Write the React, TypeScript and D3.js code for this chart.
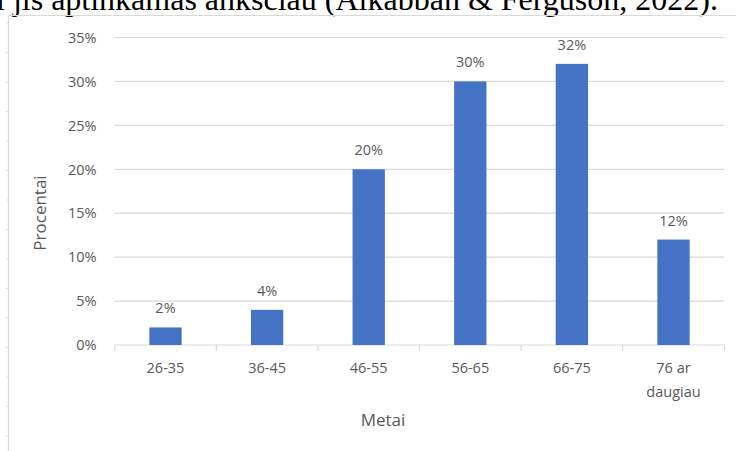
import React from "react";
import * as d3 from "d3";

// Age groups and share of cases in each
const categories: string[] = ["26-35", "36-45", "46-55", "56-65", "66-75", "76 ar daugiau"];
const shares: number[] = [0.02, 0.04, 0.2, 0.3, 0.32, 0.12];
const yTicks: number[] = [0, 0.05, 0.1, 0.15, 0.2, 0.25, 0.3, 0.35];

const xTitle = "Metai";
const yTitle = "Procentai";
const captionText = "i jis aptinkamas anksčiau (Alkabban & Ferguson, 2022).";

const W = 736;
const H = 451;
const plot = { left: 114.7, right: 724.3, top: 37.5, bottom: 345 };

const BAR = "#4472C4";
const GRID = "#D9D9D9";
const TEXT = "#595959";
const FONT = "'Open Sans', 'Noto Sans', sans-serif";

// greedy word wrap by character count
function wrap(label: string, maxChars: number): string[] {
  const words = label.split(" ");
  const lines: string[] = [];
  let cur = "";
  for (const w of words) {
    const next = cur ? cur + " " + w : w;
    if (next.length > maxChars && cur) {
      lines.push(cur);
      cur = w;
    } else cur = next;
  }
  if (cur) lines.push(cur);
  return lines;
}

export default function App() {
  const x = d3.scaleBand<string>().domain(categories).range([plot.left, plot.right]).padding(0);
  const y = d3.scaleLinear().domain([0, 0.35]).range([plot.bottom, plot.top]);
  const bw = x.bandwidth();
  const barW = bw * 0.318;
  const pct = d3.format(".0%");

  const boundaries = categories.map((c) => x(c) as number).concat([plot.right]);
  const rulerMarks = d3.range(23, H, 29.5);

  return (
    <svg
      width={W}
      height={H}
      style={{ position: "absolute", left: 0, top: 0, background: "#fff" }}
    >
      {/* running text above the figure */}
      <text
        x={-4}
        y={10}
        fontFamily="'Liberation Serif', 'Times New Roman', serif"
        fontSize={32}
        fill="#000"
      >
        {captionText}
      </text>

      {/* chart frame */}
      <line x1={8.5} x2={W} y1={15.5} y2={15.5} stroke={GRID} strokeWidth={1.2} />
      <line x1={8.5} x2={8.5} y1={15.5} y2={H} stroke={GRID} strokeWidth={1.2} />
      {rulerMarks.map((r, i) => (
        <line key={i} x1={6} x2={8} y1={r} y2={r} stroke="#E3E3E3" strokeWidth={1} />
      ))}

      {/* gridlines and value ticks */}
      {yTicks.map((t) => (
        <g key={t}>
          {t > 0 && (
            <line x1={plot.left} x2={plot.right} y1={y(t)} y2={y(t)} stroke={GRID} strokeWidth={1.2} />
          )}
          <text
            x={96.5}
            y={y(t)}
            dy="0.36em"
            textAnchor="end"
            fontFamily={FONT}
            fontSize={14.5}
            fill={TEXT}
          >
            {pct(t)}
          </text>
        </g>
      ))}

      {/* category axis */}
      <line x1={plot.left} x2={plot.right} y1={plot.bottom} y2={plot.bottom} stroke={GRID} strokeWidth={1.2} />
      {boundaries.map((b, i) => (
        <line key={i} x1={b} x2={b} y1={plot.bottom} y2={plot.bottom + 6} stroke={GRID} strokeWidth={1.2} />
      ))}
      {categories.map((c) => (
        <text
          key={c}
          x={(x(c) as number) + bw / 2}
          y={373}
          textAnchor="middle"
          fontFamily={FONT}
          fontSize={14.5}
          fill={TEXT}
        >
          {wrap(c, 7).map((ln, i) => (
            <tspan key={i} x={(x(c) as number) + bw / 2} dy={i === 0 ? 0 : 23.5}>
              {ln}
            </tspan>
          ))}
        </text>
      ))}

      {/* bars with value labels */}
      {categories.map((c, i) => {
        const cx = (x(c) as number) + bw / 2;
        return (
          <g key={c}>
            <rect x={cx - barW / 2} y={y(shares[i])} width={barW} height={plot.bottom - y(shares[i])} fill={BAR} />
            <text
              x={cx}
              y={y(shares[i]) - 14}
              textAnchor="middle"
              fontFamily={FONT}
              fontSize={14.5}
              fill={TEXT}
            >
              {pct(shares[i])}
            </text>
          </g>
        );
      })}

      {/* axis titles */}
      <text x={383} y={426} textAnchor="middle" fontFamily={FONT} fontSize={17} fill={TEXT}>
        {xTitle}
      </text>
      <text
        transform={`translate(45.5, 213) rotate(-90)`}
        textAnchor="middle"
        fontFamily={FONT}
        fontSize={17}
        fill={TEXT}
      >
        {yTitle}
      </text>
    </svg>
  );
}
